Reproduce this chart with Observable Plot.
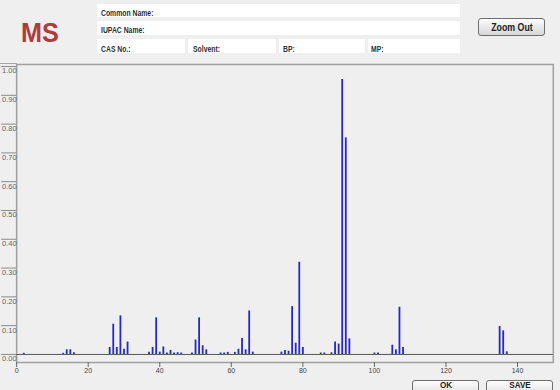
<!DOCTYPE html>
<html>
<head>
<meta charset="utf-8">
<script src="https://cdn.jsdelivr.net/npm/d3@7"></script>
<script src="https://cdn.jsdelivr.net/npm/@observablehq/plot@0.6"></script>
<style>
  html, body { margin: 0; padding: 0; background: #efefef; }
  #wrap { position: relative; width: 560px; height: 390px; overflow: hidden; background: #efefef; font-family: "Liberation Sans", Arial, sans-serif; }
  #chart { position: absolute; left: 0; top: 0; }
  .box { position: absolute; background: #ffffff; }
  .lbl { position: absolute; font-size: 9.5px; line-height: 1; font-weight: bold; color: #2e2e2e; white-space: nowrap; transform: scaleX(0.72); transform-origin: 0 0; }
  .btn { position: absolute; box-sizing: border-box; border: 1px solid #6e6e6e; border-radius: 3px; background: linear-gradient(#fdfdfd, #d6d6d6); }
  .btxt { position: absolute; font-size: 11px; line-height: 1; font-weight: bold; color: #222; white-space: nowrap; transform: translateX(-50%) scaleX(0.8); transform-origin: 50% 0; }
  .btxt2 { position: absolute; font-size: 9px; line-height: 0.8; font-weight: bold; color: #222; white-space: nowrap; transform: translateX(-50%) scaleX(0.9); transform-origin: 50% 0; }
  #ms { position: absolute; left: 21px; top: 19.3px; font-size: 28px; line-height: 1; font-weight: bold; color: #b03a3c; transform: scaleX(0.9); transform-origin: 0 0; }
  #topleft { position: absolute; left: 0; top: 63px; width: 17px; height: 0; border-top: 1.5px solid #a3a3a3; }
</style>
</head>
<body>
<div id="wrap">
  <div id="chart"></div>
  <div id="topleft"></div>
  <div id="ms">MS</div>

  <div class="box" style="left:97px;top:4px;width:363px;height:13px"></div>
  <div class="box" style="left:97px;top:21px;width:363px;height:14px"></div>
  <div class="box" style="left:97px;top:39px;width:88px;height:14px"></div>
  <div class="box" style="left:188px;top:39px;width:88px;height:14px"></div>
  <div class="box" style="left:279px;top:39px;width:86px;height:14px"></div>
  <div class="box" style="left:368px;top:39px;width:92px;height:14px"></div>

  <div class="lbl" style="left:101px;top:8px">Common Name:</div>
  <div class="lbl" style="left:101px;top:25.3px">IUPAC Name:</div>
  <div class="lbl" style="left:101px;top:43.7px">CAS No.:</div>
  <div class="lbl" style="left:193px;top:43.7px">Solvent:</div>
  <div class="lbl" style="left:283px;top:43.7px">BP:</div>
  <div class="lbl" style="left:371px;top:43.7px">MP:</div>

  <div class="btn" style="left:478px;top:18px;width:67px;height:18px"></div>
  <div class="btxt" style="left:511.5px;top:21.5px">Zoom Out</div>

  <div class="btn" style="left:412px;top:380px;width:67px;height:20px"></div>
  <div class="btxt2" style="left:445.5px;top:381.6px">OK</div>
  <div class="btn" style="left:486px;top:380px;width:67px;height:20px"></div>
  <div class="btxt2" style="left:519.5px;top:381.6px">SAVE</div>
</div>
<script>
// m/z values and relative intensities
const mz = [2, 13, 14, 15, 16, 26, 27, 28, 29, 30, 31, 37, 38, 39, 40, 41, 42, 43, 44, 45, 46,
  49, 50, 51, 52, 53, 57, 58, 59, 61, 62, 63, 64, 65, 66, 74, 75, 76, 77, 78, 79, 80,
  85, 86, 88, 89, 90, 91, 92, 93, 100, 101, 105, 106, 107, 108, 135, 136, 137];
const intensity = [0.004, 0.004, 0.016, 0.016, 0.006, 0.024, 0.105, 0.024, 0.134, 0.018, 0.043,
  0.008, 0.024, 0.127, 0.008, 0.026, 0.005, 0.014, 0.005, 0.006, 0.005,
  0.005, 0.050, 0.127, 0.030, 0.016, 0.005, 0.005, 0.007, 0.007, 0.018, 0.055, 0.016, 0.151, 0.008,
  0.008, 0.014, 0.011, 0.166, 0.039, 0.320, 0.024,
  0.005, 0.005, 0.006, 0.043, 0.036, 0.955, 0.752, 0.054, 0.005, 0.005,
  0.032, 0.016, 0.164, 0.024, 0.097, 0.082, 0.009];
const xTicks = [0, 20, 40, 60, 80, 100, 120, 140];
const yTicks = [0, 0.1, 0.2, 0.3, 0.4, 0.5, 0.6, 0.7, 0.8, 0.9, 1.0];

const peaks = mz.map((m, i) => ({mz: m, i: intensity[i]}));

const chart = Plot.plot({
  width: 560,
  height: 390,
  marginLeft: 16.15,
  marginRight: 7.2,
  marginTop: 64,
  marginBottom: 28,
  x: {domain: [0, 150]},
  y: {domain: [-0.028, 1.007]},
  style: {background: "transparent", fontFamily: "'Liberation Sans', Arial, sans-serif", overflow: "visible"},
  marks: [
    Plot.frame({stroke: "#a0a0a0", strokeWidth: 1.5}),
    Plot.ruleY([0], {stroke: "#555", strokeWidth: 1}),
    Plot.ruleX(peaks, {x: "mz", y1: 0, y2: "i", stroke: "#2626cc", strokeWidth: 1.8}),
    // y tick lines (no labels)
    Plot.axisY(yTicks, {
      tickSize: 15, stroke: "#8a8a8a", label: null, tickFormat: () => ""
    }),
    // y tick labels, hanging just below each tick line
    Plot.axisY(yTicks, {
      tickSize: 0, tickPadding: 0, dy: 4.5, fontSize: 7.5,
      fill: "#666", label: null, tickFormat: d3.format(".2f")
    }),
    Plot.axisX(xTicks, {
      tickSize: 5, tickPadding: 1, fontSize: 7,
      stroke: "#666", fill: "#444", label: null
    })
  ]
});
document.getElementById("chart").appendChild(chart);
</script>
</body>
</html>
